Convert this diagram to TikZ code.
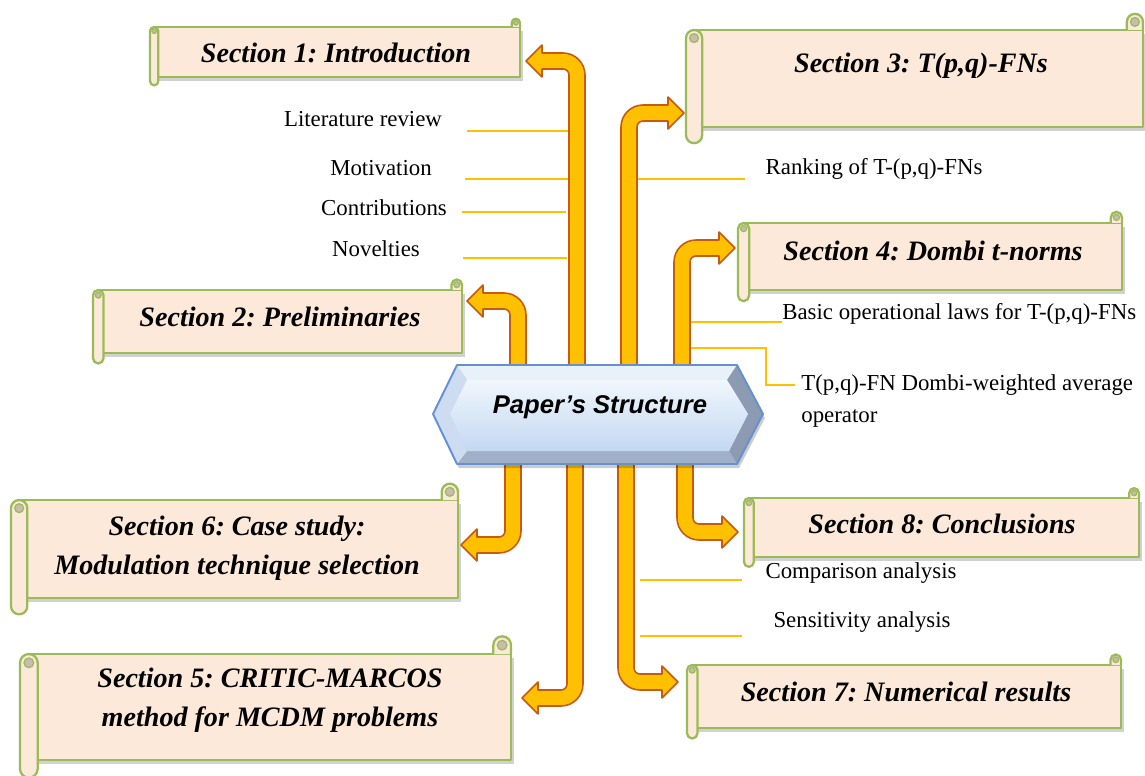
\documentclass[tikz,border=0pt]{standalone}
\usepackage{fontspec}
\setmainfont{Liberation Serif}
\newfontfamily\hexfont{Liberation Sans}
\frenchspacing
\definecolor{peach}{RGB}{253,233,217}
\definecolor{sgreen}{RGB}{155,187,89}
\definecolor{curlgray}{RGB}{200,188,176}
\definecolor{aorange}{RGB}{255,192,0}
\definecolor{aborder}{RGB}{197,90,17}
\definecolor{hexborder}{RGB}{100,145,210}
\definecolor{hextop}{RGB}{232,240,250}
\definecolor{hexleft}{RGB}{205,220,240}
\definecolor{hexright}{RGB}{140,154,178}
\definecolor{hexbottom}{RGB}{160,176,200}
\definecolor{hexin1}{RGB}{240,246,253}
\definecolor{hexin2}{RGB}{196,216,242}
\tikzset{
  scrollsty/.style={fill=peach, draw=sgreen, line width=1.3pt, line join=round},
  arrowsty/.style={fill=aorange, draw=aborder, line width=0.9pt, line join=round},
  thinline/.style={draw=aorange, line width=1.1pt},
  sectxt/.style={font=\fontsize{16}{22}\selectfont\bfseries\itshape, align=center, inner sep=0pt},
  smalltxt/.style={font=\fontsize{13}{18}\selectfont, inner sep=0pt},
}
\newcommand\scrollbox[4]{%
  \pgfmathsetmacro\scC{(#4-#2)/6}%
  \pgfmathsetlengthmacro\scR{0.01cm*\scC}%
  \pgfmathsetlengthmacro\scQ{0.0055cm*\scC}%
  \fill[black, opacity=0.18] (#1+3,#2+4) rectangle (#3+3,#4+4);
  \filldraw[scrollsty] (#1+\scC/2,#2) rectangle (#3,#4);
  \filldraw[scrollsty, rounded corners=\scR] (#1,#2) rectangle (#1+\scC,#4+\scC);
  \filldraw[fill=curlgray, draw=sgreen, line width=0.7pt] (#1+\scC/2,#2+\scC/2) circle[radius=\scQ];
  \filldraw[scrollsty, rounded corners=\scR] (#3-\scC,#2) -- (#3-\scC,#2-\scC) -- (#3,#2-\scC) -- (#3,#2);
  \filldraw[fill=curlgray, draw=sgreen, line width=0.7pt] (#3-\scC/2,#2-\scC/2) circle[radius=\scQ];
}
\newcommand\barrow[5]{%
  \begin{scope}[shift={(#1,#2)},#5]
  \filldraw[arrowsty] (-8,0) -- (-8,#3-14) .. controls (-8,#3-1.86) and (1.86,#3+8) .. (14,#3+8)
    -- (#4-16,#3+8) -- (#4-16,#3+16) -- (#4,#3) -- (#4-16,#3-16) -- (#4-16,#3-8)
    -- (14,#3-8) .. controls (10.69,#3-8) and (8,#3-10.69) .. (8,#3-14) -- (8,0) -- cycle;
  \end{scope}}
\begin{document}
\begin{tikzpicture}[x=0.02cm, y=-0.02cm]
\useasboundingbox (0,0) rectangle (1145,776);

% scrolls
\scrollbox{150}{27}{520}{77}
\scrollbox{93}{290}{462}{353}
\scrollbox{686}{30}{1143}{127}
\scrollbox{738}{223}{1122}{290}
\scrollbox{11}{500}{458}{598}
\scrollbox{20}{654}{511}{760}
\scrollbox{744}{498}{1139}{557}
\scrollbox{687}{665}{1121}{728}

% thin connector lines
\coordinate (la1) at (467,131); \coordinate (lb1) at (570,131);
\coordinate (la2) at (465,179); \coordinate (lb2) at (568,179);
\coordinate (la3) at (462,212); \coordinate (lb3) at (566,212);
\coordinate (la4) at (463,258); \coordinate (lb4) at (567,258);
\coordinate (la5) at (637,179); \coordinate (lb5) at (745,179);
\coordinate (la6) at (690,322); \coordinate (lb6) at (782,322);
\coordinate (la7) at (690,348); \coordinate (lb7) at (795,385);
\coordinate (la8) at (640,580); \coordinate (lb8) at (742,580);
\coordinate (la9) at (640,636); \coordinate (lb9) at (742,636);
\foreach \i in {1,2,3,4,5,6,8,9} \draw[thinline] (la\i) -- (lb\i);
\draw[thinline] (la7) -- (766,348) -- (766,385) -- (lb7);

% bent block arrows
\barrow{577}{375}{314}{51}{xscale=-1, yscale=-1}
\barrow{629}{375}{262}{55}{yscale=-1}
\barrow{518}{375}{74}{51}{xscale=-1, yscale=-1}
\barrow{682}{375}{127}{53}{yscale=-1}
\barrow{513}{455}{90}{52}{xscale=-1}
\barrow{575}{455}{243}{53}{xscale=-1}
\barrow{626}{455}{227}{52}{}
\barrow{685}{455}{77}{53}{}

% central hexagon
\fill[black, opacity=0.2] (435,418) -- (459,369) -- (739,369) -- (765,418) -- (739,468) -- (459,468) -- cycle;
\fill[hextop] (457,365) -- (737,365) -- (727,380) -- (467,380) -- cycle;
\fill[hexright] (737,365) -- (763,414) -- (737,464) -- (729,451) -- (748,414) -- (727,380) -- cycle;
\fill[hexbottom] (737,464) -- (457,464) -- (467,451) -- (729,451) -- cycle;
\fill[hexleft] (457,464) -- (433,414) -- (457,365) -- (467,380) -- (450,414) -- (467,451) -- cycle;
\shade[top color=hexin1, bottom color=hexin2] (450,414) -- (467,380) -- (727,380) -- (748,414) -- (729,451) -- (467,451) -- cycle;
\draw[hexborder, line width=1.1pt, line join=round] (433,414) -- (457,365) -- (737,365) -- (763,414) -- (737,464) -- (457,464) -- cycle;
\node[font=\hexfont\fontsize{14.6}{18}\selectfont\bfseries\itshape, inner sep=0pt] (ps) at (600,407) {Paper’s Structure};

% section titles
\node[sectxt] (s1) at (336,53) {Section 1: Introduction};
\node[sectxt] (s2) at (280,317) {Section 2: Preliminaries};
\node[sectxt] (s3) at (921,66) {Section 3: T(p,q)-FNs};
\node[sectxt] (s4) at (933,251) {Section 4: Dombi t-norms};
\node[sectxt] (s6) at (237,548) {Section 6: Case study:\\Modulation technique selection};
\node[sectxt] (s5) at (270,700) {Section 5: CRITIC-MARCOS\\method for MCDM problems};
\node[sectxt] (s8) at (942,524) {Section 8: Conclusions};
\node[sectxt] (s7) at (906,692) {Section 7: Numerical results};

% small texts
\node[smalltxt] (t1) at (363,119) {Literature review};
\node[smalltxt] (t2) at (381,168) {Motivation};
\node[smalltxt] (t3) at (384,208) {Contributions};
\node[smalltxt] (t4) at (376,249) {Novelties};
\node[smalltxt] (t5) at (874,169) {Ranking of T-(p,q)-FNs};
\node[smalltxt, anchor=west] (t6) at (782,314) {Basic operational laws for T-(p,q)-FNs};
\node[smalltxt, anchor=west, align=left] (t7) at (801,401) {T(p,q)-FN Dombi-weighted average\\operator};
\node[smalltxt] (t8) at (861,573) {Comparison analysis};
\node[smalltxt] (t9) at (862,622) {Sensitivity analysis};
\end{tikzpicture}
\end{document}
